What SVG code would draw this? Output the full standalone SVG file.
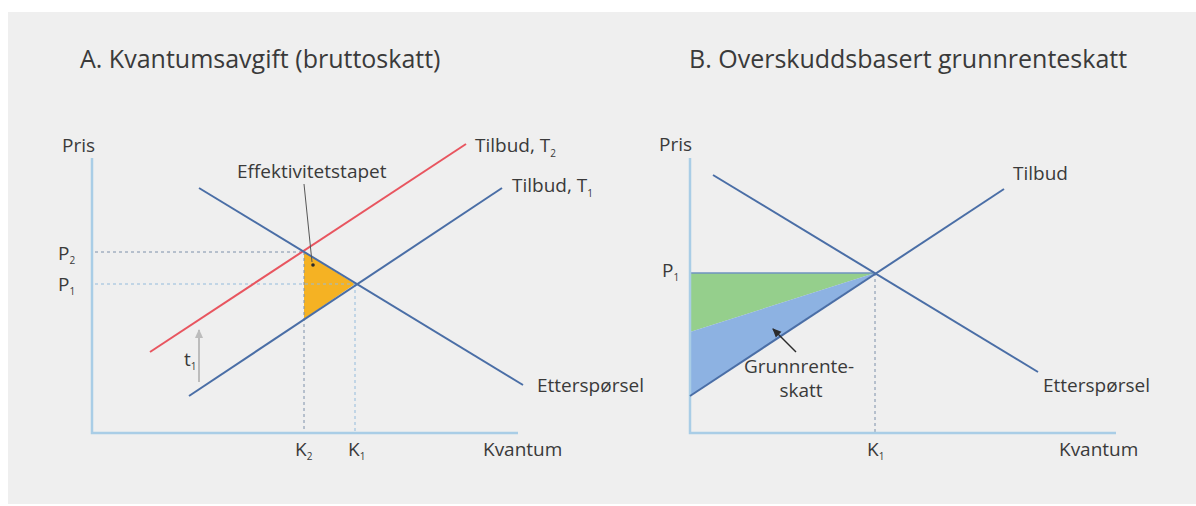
<svg xmlns="http://www.w3.org/2000/svg" width="1196" height="506" viewBox="0 0 1196 506">
<defs>
<style>
text{font-family:"Open Sans","Liberation Sans",sans-serif;fill:#3a3a3a;font-size:19px}
.title{font-size:25px}
.sub{font-size:10px}
.axis{stroke:#a9cde6;stroke-width:2.5;fill:none}
.curve{stroke:#4a6ea6;stroke-width:2;fill:none}
.red{stroke:#e8555f;stroke-width:2;fill:none}
.dash{stroke:#7d90aa;stroke-width:1;stroke-dasharray:3 3;fill:none}
.dashl{stroke:#93bbdc;stroke-width:1;stroke-dasharray:3 3;fill:none}
</style>
<marker id="ah" markerWidth="10" markerHeight="10" refX="8" refY="5" orient="auto" markerUnits="userSpaceOnUse">
<path d="M0,1 L9,5 L0,9 z" fill="#2b2b2b"/>
</marker>
<marker id="ahg" markerWidth="10" markerHeight="10" refX="8" refY="5" orient="auto" markerUnits="userSpaceOnUse">
<path d="M0,1 L9,5 L0,9 z" fill="#bcbcbc"/>
</marker>
</defs>
<rect x="0" y="0" width="1196" height="506" fill="#ffffff"/>
<rect x="8" y="12" width="1188" height="492" fill="#efefef"/>

<g id="panelA">
<text class="title" x="80" y="68">A. Kvantumsavgift (bruttoskatt)</text>
<polygon points="304,252 355,284 304,319" fill="#f5b223"/>
<g id="connectorsA">
<line class="dash" x1="95" y1="252" x2="304" y2="252"/>
<line class="dashl" x1="95" y1="284" x2="355" y2="284"/>
<line class="dash" x1="304" y1="252" x2="304" y2="433"/>
<line class="dashl" x1="355" y1="284" x2="355" y2="433"/>
<polyline class="axis" points="92,158 92,433 518,433"/>
<line class="red" x1="150" y1="352" x2="466" y2="144"/>
<line class="curve" x1="189" y1="396" x2="502" y2="188"/>
<line class="curve" x1="199" y1="188" x2="523" y2="385"/>
<line x1="199" y1="382" x2="199" y2="330" stroke="#bcbcbc" stroke-width="2" marker-end="url(#ahg)"/>
<line x1="304" y1="184" x2="312" y2="262" stroke="#555" stroke-width="1"/>
<circle cx="313" cy="265" r="1.8" fill="#2b2b2b"/>
</g>
<text x="62" y="152">Pris</text>
<text x="58" y="260">P<tspan class="sub" dy="4">2</tspan></text>
<text x="58" y="291">P<tspan class="sub" dy="4">1</tspan></text>
<text x="237" y="178">Effektivitetstapet</text>
<text x="475" y="152">Tilbud, T<tspan class="sub" dy="5">2</tspan></text>
<text x="512" y="192">Tilbud,  T<tspan class="sub" dy="5">1</tspan></text>
<text x="537" y="392">Etterspørsel</text>
<text x="184" y="366">t<tspan class="sub" dy="4">1</tspan></text>
<text x="295" y="456">K<tspan class="sub" dy="4">2</tspan></text>
<text x="348" y="456">K<tspan class="sub" dy="4">1</tspan></text>
<text x="483" y="456">Kvantum</text>
</g>

<g id="panelB">
<text class="title" x="689" y="68">B. Overskuddsbasert grunnrenteskatt</text>
<polygon points="690,273 875,273 690,332" fill="#95cf8c"/>
<polygon points="690,332 875,273 690,396" fill="#8db2e2"/>
<g id="connectorsB">
<line class="dash" x1="875" y1="273" x2="875" y2="433"/>
<line x1="690" y1="273" x2="875" y2="273" stroke="#6f93bf" stroke-width="1.5"/>
<polyline class="axis" points="690,158 690,433 1116,433"/>
<line class="curve" x1="690" y1="396" x2="1004" y2="189"/>
<line class="curve" x1="713" y1="175" x2="1038" y2="372"/>
<line x1="796" y1="352" x2="773" y2="329" stroke="#2b2b2b" stroke-width="1.5" marker-end="url(#ah)"/>
</g>
<text x="659" y="151">Pris</text>
<text x="662" y="277">P<tspan class="sub" dy="4">1</tspan></text>
<text x="1013" y="180">Tilbud</text>
<text x="1043" y="392">Etterspørsel</text>
<text x="799" y="373" text-anchor="middle">Grunnrente-</text>
<text x="801" y="397" text-anchor="middle">skatt</text>
<text x="867" y="456">K<tspan class="sub" dy="4">1</tspan></text>
<text x="1059" y="456">Kvantum</text>
</g>
</svg>
